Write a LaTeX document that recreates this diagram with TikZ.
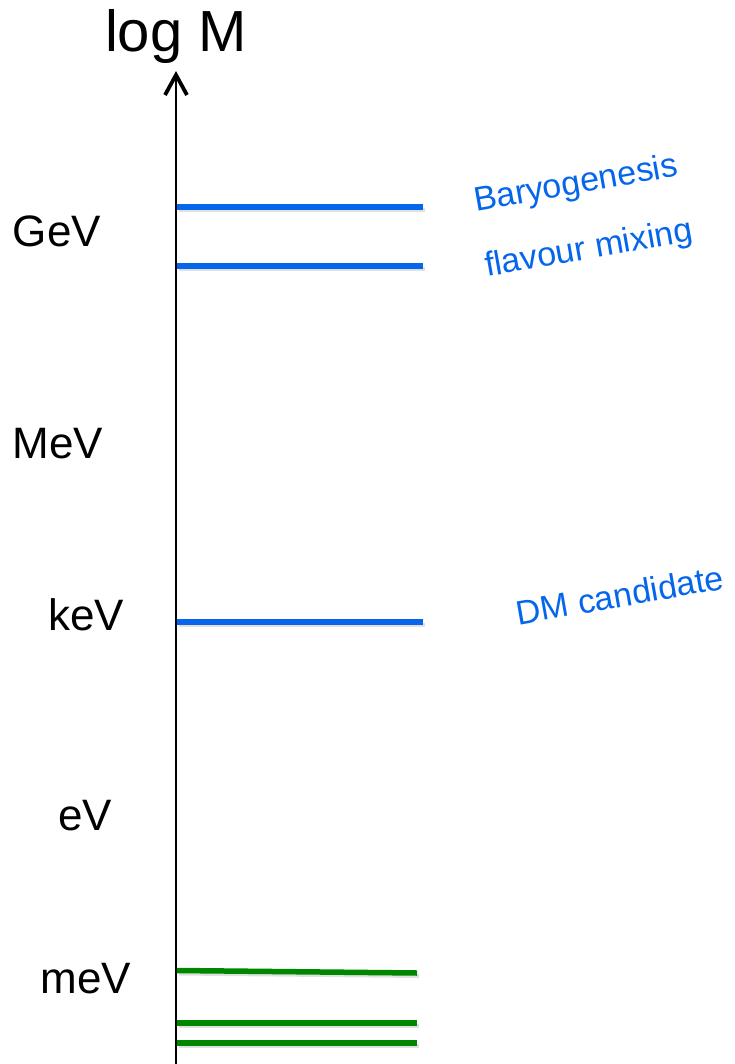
\documentclass[tikz,border=0pt]{standalone}
\usepackage{fontspec}
\setmainfont{Liberation Sans}
\definecolor{levelblue}{RGB}{5,102,235}
\definecolor{levelgreen}{RGB}{0,135,0}
\begin{document}
\begin{tikzpicture}[x=1pt,y=-1pt,
  axislabel/.style={anchor=base,inner sep=0pt,font=\fontsize{44}{48}\selectfont},
  bluetext/.style={inner sep=0pt,rotate=10,text=levelblue,font=\fontsize{34}{36}\selectfont},
  bluelevel/.style={draw=levelblue,line width=5.5pt},
  greenlevel/.style={draw=levelgreen,line width=5.5pt},
  shade/.style={draw=black!35,line width=4pt,opacity=0.35}]
\useasboundingbox (0,0) rectangle (735,1064);

% mass axis with an open chevron head
\coordinate (axbot) at (176,1064);
\coordinate (axtop) at (176,75);
\coordinate (headl) at (165,95);
\coordinate (headr) at (187,95);
\draw[line width=2.2pt] (axbot) -- (axtop);
\draw[line width=3.8pt,line join=miter,line cap=butt] (headl) -- (axtop) -- (headr);
\node[anchor=base,inner sep=0pt,font=\fontsize{58}{60}\selectfont] (title) at (176,52) {log M};

% scale labels
\node[axislabel] (gev) at (57,247) {GeV};
\node[axislabel] (mev) at (58,458) {MeV};
\node[axislabel] (kev) at (86,630) {keV};
\node[axislabel] (ev) at (85,830) {eV};
\node[axislabel] (mmev) at (86,993) {meV};

% heavy neutral lepton levels
\coordinate (b1l) at (177,207);  \coordinate (b1r) at (423,207);
\coordinate (b2l) at (177,266);  \coordinate (b2r) at (423,266);
\coordinate (b3l) at (177,622);  \coordinate (b3r) at (423,622);
\foreach \l/\r in {b1l/b1r,b2l/b2r,b3l/b3r}{
  \draw[shade] ([shift={(2,3)}]\l) -- ([shift={(2,3)}]\r);
  \draw[bluelevel] (\l) -- (\r);
}

% light neutrino levels
\coordinate (g1l) at (177,970.5); \coordinate (g1r) at (417,973);
\coordinate (g2l) at (177,1023);  \coordinate (g2r) at (417,1023);
\coordinate (g3l) at (177,1043);  \coordinate (g3r) at (417,1043);
\foreach \l/\r in {g1l/g1r,g2l/g2r,g3l/g3r}{
  \draw[shade] ([shift={(2,3)}]\l) -- ([shift={(2,3)}]\r);
  \draw[greenlevel] (\l) -- (\r);
}

% annotations
\node[bluetext] (baryo) at (576,185) {Baryogenesis};
\node[bluetext] (flav) at (589,250) {flavour mixing};
\node[bluetext] (dm) at (620,595) {DM candidate};
\end{tikzpicture}
\end{document}
